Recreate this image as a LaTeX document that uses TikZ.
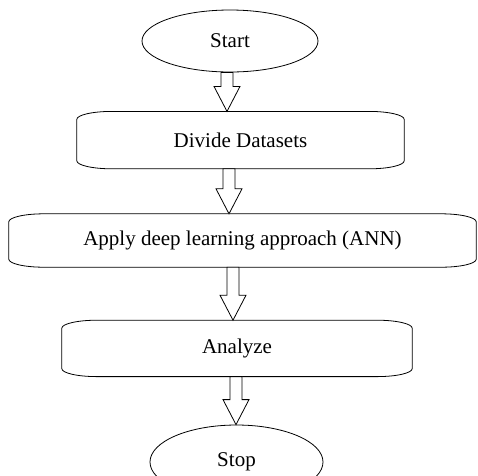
\documentclass[tikz,border=0pt]{standalone}
\usepackage{fontspec}
\setmainfont{Liberation Serif}
\usetikzlibrary{positioning,calc,shapes.geometric}

\tikzset{
  terminal/.style={ellipse, draw, line width=0.8pt, inner sep=0pt},
  stepbox/.style={rectangle, inner sep=0pt},
  blockarrow/.style={draw, line width=0.8pt, fill=white, line join=miter}
}

% outline of a process box with wide rounded ends
\newcommand{\boxoutline}[1]{%
  \draw[line width=0.8pt] ([xshift=35pt]#1.north west) -- ([xshift=-35pt]#1.north east)
    arc[start angle=90, end angle=0, x radius=35pt, y radius=8pt]
    -- ([yshift=8pt]#1.south east)
    arc[start angle=0, end angle=-90, x radius=35pt, y radius=8pt]
    -- ([xshift=35pt]#1.south west)
    arc[start angle=270, end angle=180, x radius=35pt, y radius=8pt]
    -- ([yshift=-8pt]#1.north west)
    arc[start angle=180, end angle=90, x radius=35pt, y radius=8pt] -- cycle;}

% hollow block arrow from one node down to the next, at a given x
\newcommand{\blockarrow}[3]{%
  \draw[blockarrow] let \p1=(#1.south), \p2=(#2.north) in
    (#3pt-6pt,\y1) -- (#3pt-6pt,\y2+25pt) -- (#3pt-13pt,\y2+25pt) -- (#3pt,\y2)
    -- (#3pt+13pt,\y2+25pt) -- (#3pt+6pt,\y2+25pt) -- (#3pt+6pt,\y1) -- cycle;}

\begin{document}
\begin{tikzpicture}[x=1pt, y=1pt, every node/.style={font=\fontsize{21}{25}\selectfont}]
	\useasboundingbox (0,0) rectangle (478,-475);

	\node[terminal, minimum width=176pt, minimum height=62pt] (start) at (230,-41) {Start};
	\node[stepbox, below=39pt of start, xshift=10.5pt, minimum width=327pt, minimum height=57pt] (divide) {Divide Datasets};
	\node[stepbox, below=45pt of divide, xshift=2pt, minimum width=467pt, minimum height=53pt] (apply) {Apply deep learning approach (ANN)};
	\node[stepbox, below=53pt of apply, xshift=-5.5pt, minimum width=350pt, minimum height=56pt] (analyze) {Analyze};
	\node[terminal, below=48pt of analyze, xshift=-0.5pt, minimum width=173pt, minimum height=74pt] (stop) {Stop};

	\boxoutline{divide}
	\boxoutline{apply}
	\boxoutline{analyze}

	\blockarrow{start}{divide}{227}
	\blockarrow{divide}{apply}{229}
	\blockarrow{apply}{analyze}{233}
	\blockarrow{analyze}{stop}{236}

\end{tikzpicture}
\end{document}
